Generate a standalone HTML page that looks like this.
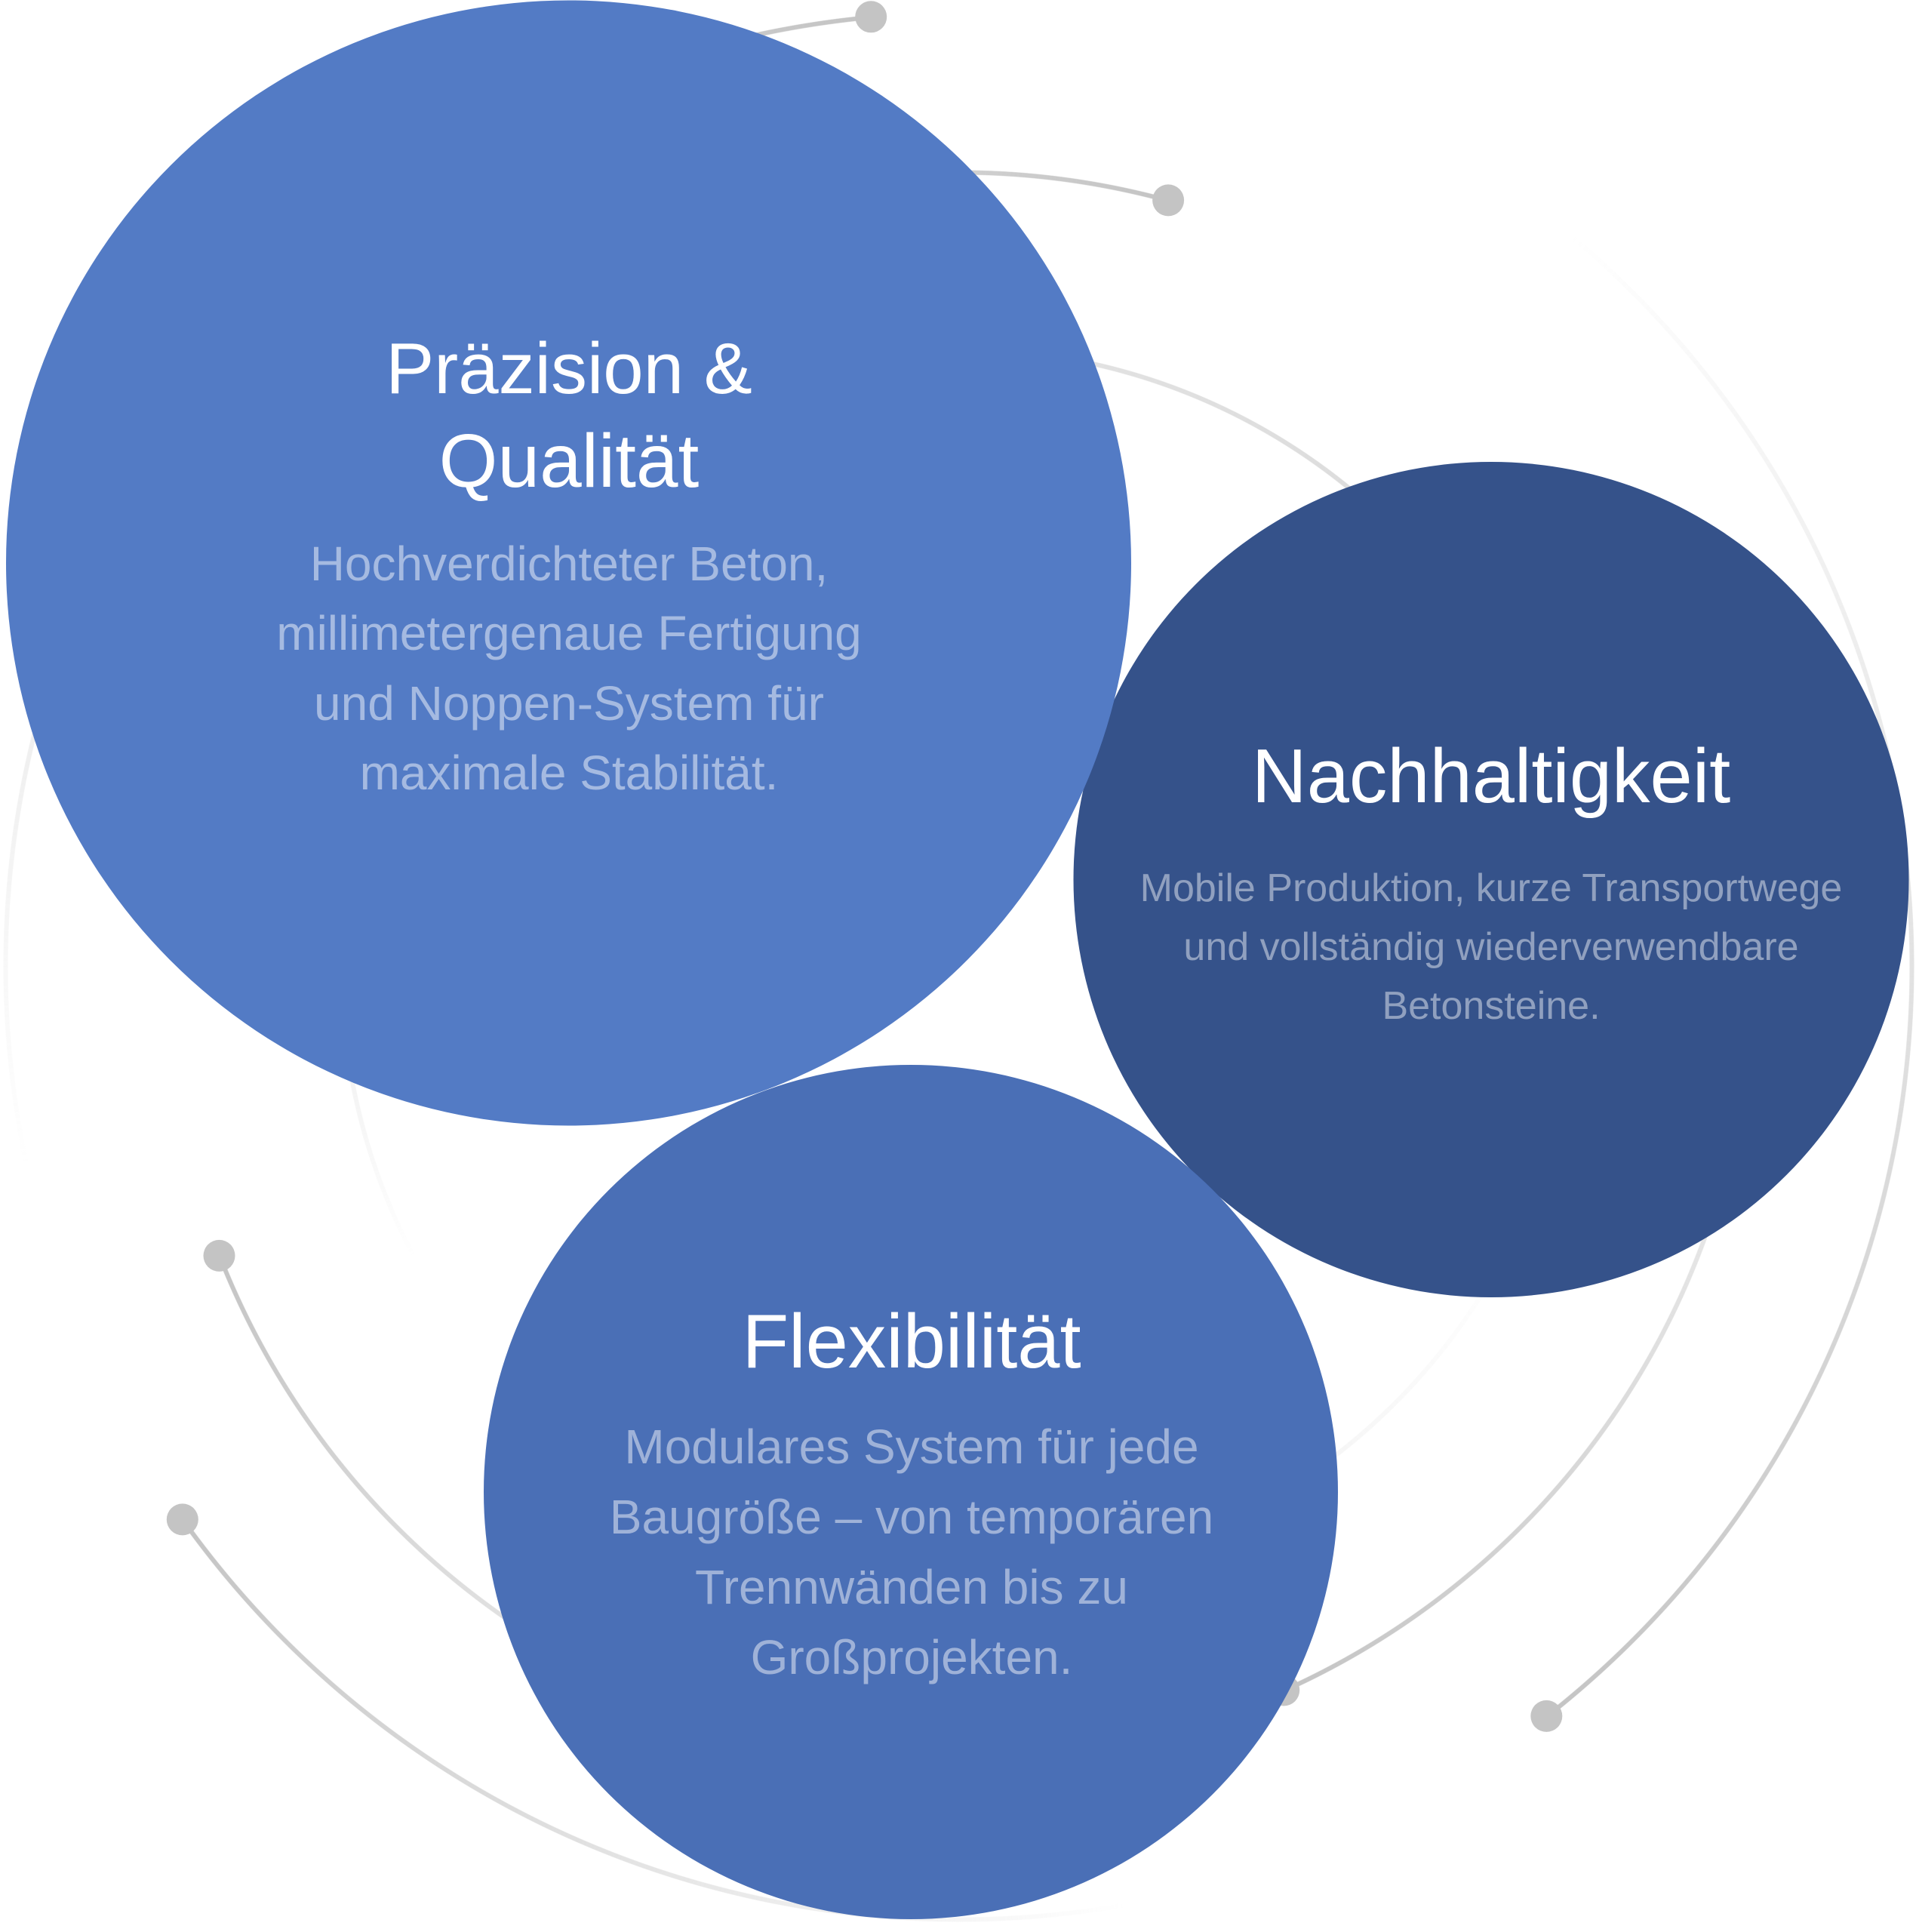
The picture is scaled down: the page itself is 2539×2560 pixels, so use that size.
<!DOCTYPE html>
<html>
<head>
<meta charset="utf-8">
<style>
html,body{margin:0;padding:0;background:#ffffff;width:2539px;height:2560px;overflow:hidden;position:relative;}
.ring{position:absolute;border-radius:50%;
  -webkit-mask:radial-gradient(closest-side, transparent calc(100% - 7px), #000 calc(100% - 6px), #000 calc(100% - 1px), transparent 100%);
  mask:radial-gradient(closest-side, transparent calc(100% - 7px), #000 calc(100% - 6px), #000 calc(100% - 1px), transparent 100%);}
svg{position:absolute;left:0;top:0;}
.t{font-family:"Liberation Sans",Arial,sans-serif;}
</style>
</head>
<body>

<!-- outer ring R=1263 -->
<div class="ring" style="left:3.5px;top:13.5px;width:2533px;height:2533px;
background:conic-gradient(
 rgba(196,196,196,0) 0deg 40deg,
 rgba(196,196,196,0) 40deg, rgba(196,196,196,1) 141.9deg,
 rgba(196,196,196,0) 141.9deg 170deg,
 rgba(196,196,196,0) 170deg, rgba(196,196,196,1) 234.5deg,
 rgba(196,196,196,0) 234.5deg 258deg,
 rgba(196,196,196,0) 258deg, rgba(196,196,196,1) 354.7deg,
 rgba(196,196,196,0) 354.7deg 360deg);"></div>

<!-- middle ring R=1052 -->
<div class="ring" style="left:214.5px;top:224.5px;width:2111px;height:2111px;
background:conic-gradient(
 rgba(196,196,196,0.8) 0deg, rgba(196,196,196,1) 15.3deg,
 rgba(196,196,196,0) 15.3deg 75deg,
 rgba(196,196,196,0) 75deg, rgba(196,196,196,1) 155.8deg,
 rgba(196,196,196,0) 155.8deg 180deg,
 rgba(196,196,196,0) 180deg, rgba(196,196,196,1) 248.6deg,
 rgba(196,196,196,0) 248.6deg 300deg,
 rgba(196,196,196,0) 300deg, rgba(196,196,196,0.8) 360deg);"></div>

<!-- inner ring R=818 -->
<div class="ring" style="left:448.5px;top:458.5px;width:1643px;height:1643px;
background:conic-gradient(
 rgba(196,196,196,0.45) 0deg, rgba(196,196,196,0.5) 13deg, rgba(196,196,196,0.6) 45deg, rgba(196,196,196,0.65) 70deg,
 rgba(196,196,196,0) 70deg 118deg,
 rgba(196,196,196,0) 118deg, rgba(196,196,196,0.15) 142deg, rgba(196,196,196,0.4) 170deg,
 rgba(196,196,196,0) 170deg 242deg,
 rgba(196,196,196,0) 242deg, rgba(196,196,196,0.2) 260deg, rgba(196,196,196,0.45) 360deg);"></div>

<svg width="2539" height="2560" viewBox="0 0 2539 2560" xmlns="http://www.w3.org/2000/svg">
  <!-- dots -->
  <g fill="#c4c4c4">
    <circle cx="1154.2" cy="22.3" r="21"/>
    <circle cx="1548.1" cy="265.4" r="21"/>
    <circle cx="290.5" cy="1663.9" r="21"/>
    <circle cx="241.8" cy="2013.4" r="21"/>
    <circle cx="2049.3" cy="2273.9" r="21"/>
    <circle cx="1701.2" cy="2239.5" r="21"/>
  </g>

  <!-- circles -->
  <circle cx="1976" cy="1165.5" r="553.5" fill="#35528a"/>
  <circle cx="753.5" cy="746" r="745.5" fill="#537bc5"/>
  <circle cx="1207" cy="1977" r="566" fill="#4a6fb6"/>

  <!-- circle 1 text -->
  <g class="t" text-anchor="middle">
    <text x="754" y="521" font-size="96" fill="#ffffff">Präzision &amp;</text>
    <text x="754" y="645" font-size="100" fill="#ffffff">Qualität</text>
    <g font-size="64" fill="rgba(255,255,255,0.48)">
      <text x="754" y="769">Hochverdichteter Beton,</text>
      <text x="754" y="861">millimetergenaue Fertigung</text>
      <text x="754" y="954">und Noppen-System für</text>
      <text x="754" y="1046">maximale Stabilität.</text>
    </g>
  </g>

  <!-- circle 2 text -->
  <g class="t" text-anchor="middle">
    <text x="1976" y="1063" font-size="101" fill="#ffffff">Nachhaltigkeit</text>
    <g font-size="52" fill="rgba(255,255,255,0.45)">
      <text x="1976" y="1194">Mobile Produktion, kurze Transportwege</text>
      <text x="1976" y="1272">und vollständig wiederverwendbare</text>
      <text x="1976" y="1350">Betonsteine.</text>
    </g>
  </g>

  <!-- circle 3 text -->
  <g class="t" text-anchor="middle">
    <text x="1208" y="1812" font-size="101" fill="#ffffff">Flexibilität</text>
    <g font-size="64" fill="rgba(255,255,255,0.47)">
      <text x="1208" y="1939">Modulares System für jede</text>
      <text x="1208" y="2032">Baugröße – von temporären</text>
      <text x="1208" y="2125">Trennwänden bis zu</text>
      <text x="1208" y="2218">Großprojekten.</text>
    </g>
  </g>
</svg>

</body>
</html>
